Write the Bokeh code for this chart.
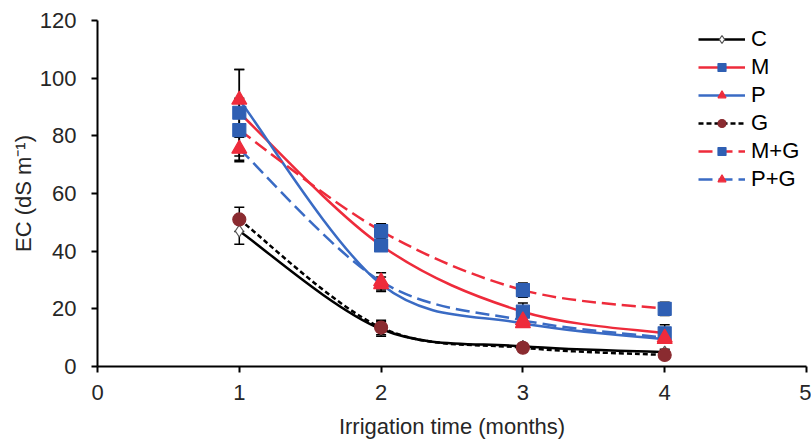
import numpy as np
from bokeh.plotting import figure
from bokeh.models import (ColumnDataSource, Whisker, TeeHead, Legend, LegendItem,
                          Range1d, FixedTicker)
from bokeh.embed import file_html
from bokeh.resources import INLINE

# ---- data ----
months = [1, 2, 3, 4]
series_names = ["C", "M", "P", "G", "M+G", "P+G"]
C = [47, 13, 7, 5]
M = [88, 42, 19, 11.5]
P = [92.5, 28.5, 15, 9.5]
G = [51, 13.5, 6.5, 4]
MG = [82, 47, 26.5, 20]
PG = [75.5, 29.5, 16, 10]
C_err = [4.6, 2.5, 1, 1]
M_err = [15, 2, 3, 3]
P_err = [10.5, 2.5, 1, 1]
G_err = [4.2, 2.5, 1, 1]
MG_err = [11, 2.5, 2.5, 2.3]
PG_err = [4, 3, 1, 1]
x_ticks = [0, 1, 2, 3, 4, 5]
y_ticks = [0, 20, 40, 60, 80, 100, 120]

RED = "#EE2B3B"
BLUE = "#3A6BC4"
SQ = "#2F5FB3"
DARKRED = "#8A2B30"
FONT = "Liberation Sans"
TXT = "#262626"

p = figure(width=811, height=443, output_backend="svg", toolbar_location=None,
           x_range=Range1d(0, 5), y_range=Range1d(0, 120),
           min_border_left=97, min_border_right=5, min_border_top=20,
           min_border_bottom=77)
p.outline_line_color = None
p.xgrid.visible = False
p.ygrid.visible = False
p.background_fill_color = "white"

for ax in (p.xaxis[0], p.yaxis[0]):
    ax.axis_line_color = "black"
    ax.axis_line_width = 2
    ax.major_tick_line_color = "black"
    ax.major_tick_line_width = 2
    ax.major_tick_in = 0
    ax.major_tick_out = 6
    ax.minor_tick_line_color = None
    ax.major_label_text_font = FONT
    ax.major_label_text_font_size = "22px"
    ax.major_label_text_color = TXT
    ax.axis_label_text_font = FONT
    ax.axis_label_text_font_size = "22px"
    ax.axis_label_text_font_style = "normal"
    ax.axis_label_text_color = TXT

p.xaxis.ticker = FixedTicker(ticks=x_ticks)
p.yaxis.ticker = FixedTicker(ticks=y_ticks)
p.xaxis.axis_label = "Irrigation time (months)"
p.yaxis.axis_label = "EC (dS m\u207b\u00b9)"
p.xaxis.major_label_standoff = 12
p.xaxis.axis_label_standoff = 11
p.yaxis.major_label_standoff = 15
p.yaxis.axis_label_standoff = 1


def smooth_src(xs, ys):
    xs = np.asarray(xs, float)
    ys = np.asarray(ys, float)
    n = len(xs)
    d = dict(x0=[], y0=[], x1=[], y1=[], cx0=[], cy0=[], cx1=[], cy1=[])
    for i in range(n - 1):
        im = max(i - 1, 0)
        ip = min(i + 2, n - 1)
        d["x0"].append(xs[i]); d["y0"].append(ys[i])
        d["x1"].append(xs[i + 1]); d["y1"].append(ys[i + 1])
        d["cx0"].append(xs[i] + (xs[i + 1] - xs[im]) / 6)
        d["cy0"].append(ys[i] + (ys[i + 1] - ys[im]) / 6)
        d["cx1"].append(xs[i + 1] - (xs[ip] - xs[i]) / 6)
        d["cy1"].append(ys[i + 1] - (ys[ip] - ys[i]) / 6)
    return ColumnDataSource(d)


styles = [
    # name, values, errors, line color, dash, marker, fill, marker line, size
    ("C", C, C_err, "black", "solid", "diamond", "white", "#555555", 12),
    ("M", M, M_err, RED, "solid", "square", SQ, SQ, 13),
    ("P", P, P_err, BLUE, "solid", "triangle", RED, RED, 15),
    ("G", G, G_err, "black", "5 3", "circle", DARKRED, DARKRED, 13),
    ("M+G", MG, MG_err, RED, "14 6", "square", SQ, SQ, 13),
    ("P+G", PG, PG_err, BLUE, "14 6", "triangle", RED, RED, 15),
]

# error bars
for name, vals, errs, *_ in styles:
    src = ColumnDataSource(dict(x=months,
                                upper=[v + e for v, e in zip(vals, errs)],
                                lower=[v - e for v, e in zip(vals, errs)]))
    w = Whisker(base="x", upper="upper", lower="lower", source=src,
                line_color="black", line_width=1.5,
                upper_head=TeeHead(size=10, line_color="black", line_width=1.5),
                lower_head=TeeHead(size=10, line_color="black", line_width=1.5))
    p.add_layout(w)

line_rs = []
for name, vals, errs, lc, dash, marker, fill, mline, size in styles:
    lr = p.bezier(x0="x0", y0="y0", x1="x1", y1="y1", cx0="cx0", cy0="cy0",
                  cx1="cx1", cy1="cy1", source=smooth_src(months, vals),
                  line_color=lc, line_width=2.5, line_dash=dash)
    line_rs.append(lr)

marker_rs = []
for name, vals, errs, lc, dash, marker, fill, mline, size in styles:
    mr = p.scatter(months, vals, marker=marker, size=size, fill_color=fill,
                   line_color=mline, line_width=1.2)
    marker_rs.append(mr)

items = []
for (name, *_), lr, mr in zip(styles, line_rs, marker_rs):
    items.append(LegendItem(label=name, renderers=[lr, mr]))

legend = Legend(items=items, location=(601, 174), glyph_width=47, glyph_height=20,
                label_height=20, spacing=2, padding=6, label_standoff=6,
                label_text_font=FONT, label_text_font_size="22px",
                label_text_color="black", border_line_color=None,
                background_fill_color="white", background_fill_alpha=1.0,
                margin=0)
p.add_layout(legend)

open("out.html", "w").write(file_html(p, INLINE))
